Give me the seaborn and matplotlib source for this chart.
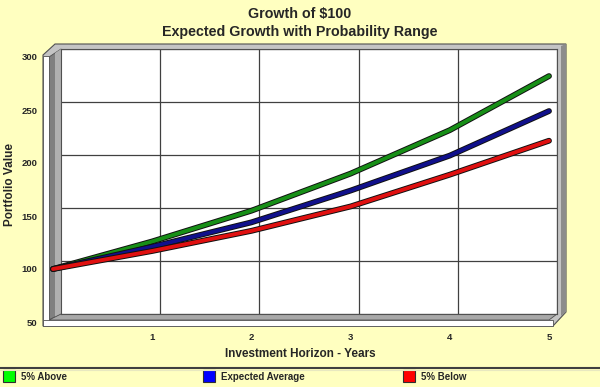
import matplotlib
matplotlib.use("Agg")
import matplotlib.pyplot as plt
import matplotlib.patheffects as pe
from matplotlib.patches import Polygon, Rectangle
import numpy as np
import pandas as pd
import seaborn as sns

# values
years = [0, 1, 2, 3, 4, 5]
above_5pct = [100, 126, 155, 190, 231, 282]
expected_avg = [100, 121, 144, 174, 207, 249]
below_5pct = [100, 117, 136, 159, 189, 221]
series_names = ["5% Above", "Expected Average", "5% Below"]
line_colors = ["#178f17", "#10108c", "#e01010"]
legend_colors = ["#00ff00", "#0000ff", "#ff0000"]
y_ticks = [50, 100, 150, 200, 250, 300]
x_ticks = [1, 2, 3, 4, 5]

BG = "#ffffc0"
W, H = 600, 387

sns.set_style("white")
plt.rcParams["font.family"] = ["Liberation Sans", "DejaVu Sans"]

df = pd.DataFrame({
    "year": years * 3,
    "value": above_5pct + expected_avg + below_5pct,
    "series": [s for s in series_names for _ in years],
})

fig = plt.figure(figsize=(W / 100, H / 100), dpi=100, facecolor=BG)


def frac(x0, y0, x1, y1):
    # pixel box (y down) -> figure fraction [left, bottom, width, height]
    return [x0 / W, (H - y1) / H, (x1 - x0) / W, (y1 - y0) / H]


# decoration layer in pixel coordinates
deco = fig.add_axes([0, 0, 1, 1], zorder=0)
deco.set_xlim(0, W)
deco.set_ylim(H, 0)
deco.axis("off")

deco.add_patch(Polygon([(43, 55), (55, 44), (566, 44), (566, 312), (553, 326), (43, 326)],
                       closed=True, facecolor="#c4c4c4", edgecolor="#505050", lw=0.8))
deco.add_patch(Polygon([(561, 46), (566, 44), (566, 312), (561, 316)],
                       closed=True, facecolor="#8c8c8c", edgecolor="none"))
deco.add_patch(Polygon([(49, 57), (61, 49), (61, 314), (49, 320)],
                       closed=True, facecolor="#808080", edgecolor="#505050", lw=0.6))
deco.add_patch(Polygon([(55, 53), (61, 49), (61, 314), (55, 317)],
                       closed=True, facecolor="#b0b0b0", edgecolor="none"))
deco.add_patch(Polygon([(49, 320), (61, 314), (557, 314), (549, 320)],
                       closed=True, facecolor="#a8a8a8", edgecolor="#505050", lw=0.6))
deco.add_patch(Rectangle((43, 56), 6, 270, facecolor="white", edgecolor="#505050", lw=0.6))
deco.add_patch(Rectangle((43, 320), 510, 6, facecolor="white", edgecolor="#505050", lw=0.6))

# titles and labels
deco.text(300, 14, "Growth of $100", ha="center", va="center", fontsize=10.3, fontweight="bold")
deco.text(300, 32, "Expected Growth with Probability Range", ha="center", va="center",
          fontsize=10.3, fontweight="bold")
deco.text(300, 354, "Investment Horizon - Years", ha="center", va="center", fontsize=8.5,
          fontweight="bold")
deco.text(10, 184, "Portfolio Value", ha="center", va="center", rotation=90, fontsize=8.5,
          fontweight="bold")

# legend strip
deco.plot([0, W], [367.5, 367.5], color="#404040", lw=1.5)
deco.plot([0, W], [369.5, 369.5], color="#e8e8c0", lw=0.8)
for i, (name, c) in enumerate(zip(series_names, legend_colors)):
    x0 = 3 + i * 200
    deco.add_patch(Rectangle((x0, 370), 12, 12, facecolor=c, edgecolor="#303030", lw=0.8))
    deco.text(x0 + 18, 377, name, ha="left", va="center", fontsize=7, fontweight="bold")

# back wall with grid
back = fig.add_axes(frac(61, 49, 557, 314), zorder=1)
back.set_facecolor("white")
back.set_xlim(0, 5)
back.set_ylim(50, 300)
back.set_xticks(x_ticks)
back.set_yticks(y_ticks)
back.grid(True, color="#404040", lw=0.9)
back.tick_params(length=0, labelleft=False, labelbottom=False)
for s in back.spines.values():
    s.set_color("#505050")
    s.set_linewidth(0.8)

# front plane with data lines and tick labels
ax = fig.add_axes(frac(53, 57, 549, 322), zorder=2)
ax.patch.set_visible(False)
sns.lineplot(data=df, x="year", y="value", hue="series", hue_order=series_names,
             palette=line_colors, lw=2.8, ax=ax, legend=False, clip_on=False,
             path_effects=[pe.Stroke(linewidth=4.2, foreground="#101010"), pe.Normal()])
ax.set_xlim(0, 5)
ax.set_ylim(50, 300)
ax.set_xticks(x_ticks)
ax.set_yticks(y_ticks)
ax.set_xlabel("")
ax.set_ylabel("")
for s in ax.spines.values():
    s.set_visible(False)
ax.tick_params(axis="y", direction="out", length=10, width=0.8, color="#404040", pad=1,
               labelsize=6.8)
ax.tick_params(axis="x", direction="out", length=4, width=0.8, color="#404040", pad=4,
               labelsize=6.8)
for lab in ax.get_xticklabels() + ax.get_yticklabels():
    lab.set_fontweight("bold")

fig.savefig("out.png", dpi=100, facecolor=BG)
